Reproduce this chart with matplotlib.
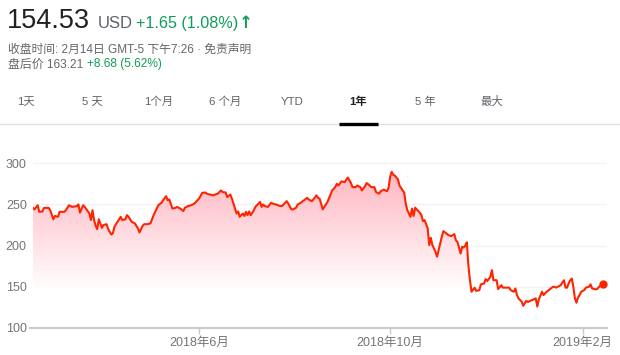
import matplotlib
matplotlib.use("Agg")
import matplotlib.pyplot as plt
import matplotlib.dates as mdates
import numpy as np
import pandas as pd

plt.rcParams['font.family'] = ['Liberation Sans', 'Noto Sans CJK SC', 'DejaVu Sans']

# ---------------- data ----------------
dates = [
 "2018-02-15","2018-02-16","2018-02-18","2018-02-19","2018-02-21","2018-02-22","2018-02-25","2018-02-26","2018-02-28",
 "2018-03-01","2018-03-03","2018-03-04","2018-03-07","2018-03-08","2018-03-10","2018-03-12","2018-03-15","2018-03-16",
 "2018-03-17","2018-03-19","2018-03-20","2018-03-23","2018-03-24","2018-03-25","2018-03-26","2018-03-27","2018-03-28",
 "2018-03-29","2018-03-31","2018-04-01","2018-04-03","2018-04-04","2018-04-06","2018-04-07","2018-04-08","2018-04-09",
 "2018-04-11","2018-04-12","2018-04-13","2018-04-15","2018-04-16","2018-04-17","2018-04-19","2018-04-21","2018-04-23",
 "2018-04-24","2018-04-26","2018-04-27","2018-04-29","2018-05-01","2018-05-03","2018-05-06","2018-05-08","2018-05-09",
 "2018-05-11","2018-05-12","2018-05-13","2018-05-15","2018-05-17","2018-05-18","2018-05-20","2018-05-22","2018-05-23",
 "2018-05-25","2018-05-27","2018-05-29","2018-05-30","2018-06-01","2018-06-03","2018-06-05","2018-06-06","2018-06-08",
 "2018-06-10","2018-06-12","2018-06-13","2018-06-15","2018-06-16","2018-06-18","2018-06-19","2018-06-21","2018-06-22",
 "2018-06-23","2018-06-25","2018-06-26","2018-06-27","2018-06-29","2018-06-30","2018-07-01","2018-07-02","2018-07-03",
 "2018-07-04","2018-07-06","2018-07-07","2018-07-09","2018-07-10","2018-07-11","2018-07-12","2018-07-13","2018-07-15",
 "2018-07-17","2018-07-18","2018-07-20","2018-07-23","2018-07-24","2018-07-26","2018-07-27","2018-07-28","2018-07-30",
 "2018-07-31","2018-08-02","2018-08-03","2018-08-05","2018-08-07","2018-08-09","2018-08-10","2018-08-12","2018-08-13",
 "2018-08-15","2018-08-16","2018-08-17","2018-08-19","2018-08-20","2018-08-22","2018-08-24","2018-08-25","2018-08-27",
 "2018-08-28","2018-08-29","2018-08-31","2018-09-02","2018-09-03","2018-09-04","2018-09-06","2018-09-07","2018-09-09",
 "2018-09-10","2018-09-12","2018-09-13","2018-09-15","2018-09-16","2018-09-18","2018-09-19","2018-09-21","2018-09-22",
 "2018-09-24","2018-09-25","2018-09-27","2018-09-29","2018-09-30","2018-10-01","2018-10-02","2018-10-03","2018-10-04",
 "2018-10-06","2018-10-07","2018-10-09","2018-10-10","2018-10-11","2018-10-12","2018-10-14","2018-10-15","2018-10-16",
 "2018-10-17","2018-10-18","2018-10-20","2018-10-21","2018-10-22","2018-10-23","2018-10-25","2018-10-26","2018-10-27",
 "2018-10-28","2018-10-30","2018-10-31","2018-11-02","2018-11-03","2018-11-04","2018-11-06","2018-11-07","2018-11-09",
 "2018-11-11","2018-11-12","2018-11-13","2018-11-15","2018-11-16","2018-11-17","2018-11-18","2018-11-19","2018-11-20",
 "2018-11-21","2018-11-22","2018-11-24","2018-11-25","2018-11-27","2018-11-28","2018-11-30","2018-12-01","2018-12-02",
 "2018-12-04","2018-12-05","2018-12-06","2018-12-08","2018-12-09","2018-12-11","2018-12-12","2018-12-13","2018-12-16",
 "2018-12-17","2018-12-19","2018-12-20","2018-12-21","2018-12-22","2018-12-24","2018-12-25","2018-12-27","2018-12-28",
 "2018-12-30","2018-12-31","2019-01-02","2019-01-03","2019-01-04","2019-01-06","2019-01-07","2019-01-08","2019-01-09",
 "2019-01-11","2019-01-13","2019-01-14","2019-01-15","2019-01-17","2019-01-18","2019-01-20","2019-01-21","2019-01-22",
 "2019-01-23","2019-01-24","2019-01-25","2019-01-26","2019-01-27","2019-01-28","2019-01-29","2019-01-30","2019-01-31",
 "2019-02-02","2019-02-03","2019-02-05","2019-02-06","2019-02-07","2019-02-09","2019-02-10","2019-02-12","2019-02-14",
]
prices = [
 245.8,244,249,241,241.5,245.8,245.8,243,232,
 236,235,241,241,243,249,247,248,250,
 240,249,247,239,231,243,231,224,220,
 232,221.6,225,226,220,213.5,215,222.8,226,
 232,235,231,232,237,235,229,227,221,
 216,224,226,226,227,237,249,252,255,
 260,255,256,245,245.8,247,245,242,246,
 248,249,251,253,257,264,264.5,263,262,
 261,262.5,263,267,265,264.5,259,262,257,
 251,239,241.5,235,239,236,241,237,241.5,
 237,243,247,251,253,247,250,248,247,
 252,251,250,248,248,252,254,251,244,
 244,246,250,252,255,258,256,254,256,
 261,258,257,244,247,253,262,267,271,
 275,273,278,277,280,282.6,276,271,271,
 273,271,267,272,276,273,271,271,265,
 263,266,268,266,270,283,289.5,286,285,
 280.6,273,267,264.5,251,243,235,245,236,
 246,244,240,237,229.7,231,221,200.6,209.5,
 200.6,192.5,186.5,202.6,210.7,217.6,214.7,213,211.5,
 214,206.6,204.6,190.5,198.6,197.6,200,204,176,
 158,144,148.9,145,146,153,154,159.4,157,
 162,170.3,158,158,147.3,152,149,149,149,
 146,144,148,140,136,132,127,133,131.5,
 133.5,134,136,126,135,144,140,142,144,
 147,150,150,149,151,152,158,149,149,
 154,158,160,150,136,130.7,137,140,144,
 146,149,150,153,148,147,147,151,153,
]
yticks = [100, 150, 200, 250, 300]
xtick_dates = ["2018-06-01", "2018-10-01", "2019-02-01"]
xtick_labels = ["2018年6月", "2018年10月", "2019年2月"]
tabs = ["1天", "5 天", "1个月", "6 个月", "YTD", "1年", "5 年", "最大"]
tab_x = [26, 92, 159, 225, 292, 358, 425, 492]
selected_tab = "1年"

# ---------------- figure ----------------
W, H = 620, 355
fig = plt.figure(figsize=(W / 100, H / 100), dpi=100)
fig.patch.set_facecolor("white")

def fx(px):
    return px / W

def fy(py):
    return 1 - py / H

GREEN = "#0f9d58"
GRAY = "#666666"
RED = "#ff2400"

# header
fig.text(fx(7), fy(28), "154.53", fontsize=19.5, color="#222222", va="baseline", ha="left")
fig.text(fx(98), fy(28), "USD", fontsize=12, color="#5f6368", va="baseline", ha="left")
fig.text(fx(136), fy(28), "+1.65 (1.08%)", fontsize=11.6, color=GREEN, va="baseline", ha="left")
fig.text(fx(239), fy(28.5), "↑", fontsize=12, color=GREEN, va="baseline", ha="left",
         fontweight="bold", family="DejaVu Sans")
fig.text(fx(8), fy(52.5), "收盘时间: 2月14日 GMT-5 下午7:26 · 免责声明", fontsize=8.5,
         color=GRAY, va="baseline", ha="left")
fig.text(fx(8), fy(67.5), "盘后价 163.21", fontsize=8.6, color=GRAY, va="baseline", ha="left")
fig.text(fx(87), fy(67.5), "+8.68 (5.62%)", fontsize=8.6, color=GREEN, va="baseline", ha="left")

# tabs
for t, x in zip(tabs, tab_x):
    sel = t == selected_tab
    fig.text(fx(x), fy(101.5), t, fontsize=8.2, ha="center", va="center",
             color="#202124" if sel else "#5f6368", fontweight="bold" if sel else "normal")
fig.add_artist(plt.Line2D([0, 1], [fy(124), fy(124)], transform=fig.transFigure,
                          color="#e3e3e3", lw=1))
fig.add_artist(plt.Line2D([fx(339), fx(378)], [fy(123.5), fy(123.5)], transform=fig.transFigure,
                          color="#000000", lw=2.4, solid_capstyle="butt"))

# chart axes
ax_left, ax_right, ax_top, ax_bottom = 33, 607, 155, 328
ax = fig.add_axes([fx(ax_left), fy(ax_bottom), (ax_right - ax_left) / W, (ax_bottom - ax_top) / H])
ax.set_facecolor("none")

d = pd.to_datetime(dates)
xn = mdates.date2num(d)
y = np.array(prices, dtype=float)

ymin, ymax = 100, 310
x0 = mdates.date2num(pd.Timestamp("2018-02-15"))
x1 = x0 + 366.5

line, = ax.plot(d, y, color=RED, lw=1.5, zorder=4, solid_joinstyle="round")

# gradient fill under the line
poly = ax.fill_between(xn, y, ymin, facecolor="none", edgecolor="none")
vals = np.linspace(ymin, ymax, 256)
frac = np.clip((vals - 145) / (290 - 145), 0, 1)
top_rgb = np.array([255, 182, 193]) / 255.0
grad = np.ones((256, 1, 3))
for k in range(3):
    grad[:, 0, k] = 1 - frac * (1 - top_rgb[k])
im = ax.imshow(grad, extent=[x0, x1, ymin, ymax], origin="lower", aspect="auto", zorder=2,
               interpolation="bilinear")
im.set_clip_path(poly.get_paths()[0], transform=ax.transData)

# end dot
ax.scatter([d[-1]], [y[-1]], s=36, color=RED, zorder=5, linewidths=0)

ax.set_xlim(x0, x1)
ax.set_ylim(ymin, ymax)

# grid
for v in yticks[1:]:
    ax.axhline(v, color="#f2f2f2", lw=1, zorder=1)

ax.set_yticks(yticks)
ax.set_yticklabels([str(v) for v in yticks])
ax.set_xticks(mdates.date2num(pd.to_datetime(xtick_dates)))
ax.set_xticklabels(xtick_labels)
ax.tick_params(axis="y", length=0, pad=4.5, labelsize=9, labelcolor="#757575")
ax.tick_params(axis="x", length=4, width=1, color="#c8c8c8", pad=2.5, labelsize=9,
               labelcolor="#757575", direction="out")

for s in ["top", "right", "left"]:
    ax.spines[s].set_visible(False)
ax.spines["bottom"].set_visible(False)
ax.add_line(plt.Line2D([-0.006, 1.0], [0, 0], transform=ax.transAxes, color="#cccccc", lw=1.6,
                       clip_on=False, zorder=3))

fig.savefig("out.png", dpi=100, facecolor="white")
